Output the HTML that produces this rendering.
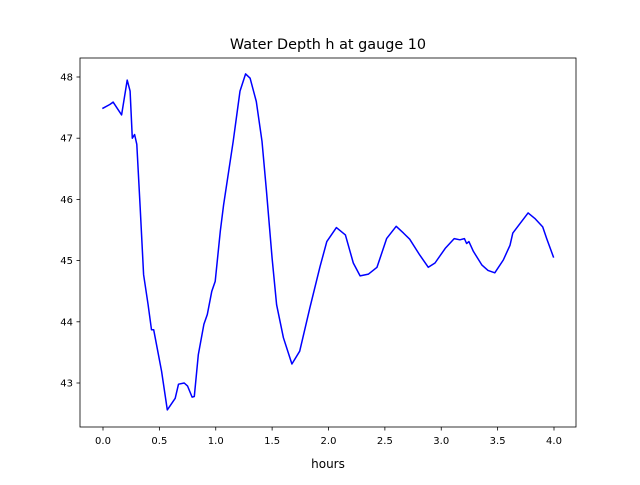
<!DOCTYPE html>
<html><head><meta charset="utf-8"><style>
body{margin:0;background:#fff;}
svg text{font-family:"DejaVu Sans","Liberation Sans",sans-serif;fill:#000;}
</style></head><body>
<svg id="chart" width="640" height="480" viewBox="0 0 640 480" xmlns="http://www.w3.org/2000/svg">
<rect width="640" height="480" fill="#fff"/>
<text x="328" y="49" font-size="14.4" text-anchor="middle">Water Depth h at gauge 10</text>
<text x="328" y="468" font-size="12" text-anchor="middle">hours</text>
<g id="plot"></g>
</svg>
<script>
const hours=[0.0,0.06,0.09,0.165,0.215,0.24,0.26,0.28,0.30,0.33,0.36,0.40,0.43,0.45,0.52,0.57,0.64,0.67,0.72,0.75,0.79,0.81,0.845,0.895,0.925,0.965,0.995,1.04,1.07,1.155,1.215,1.265,1.305,1.36,1.41,1.45,1.50,1.54,1.60,1.675,1.745,1.835,1.925,1.985,2.07,2.15,2.22,2.28,2.355,2.43,2.515,2.6,2.665,2.72,2.81,2.885,2.945,3.035,3.115,3.165,3.205,3.225,3.245,3.285,3.36,3.415,3.475,3.55,3.61,3.635,3.70,3.77,3.83,3.90,3.935,3.995];
const depth=[47.49,47.55,47.59,47.38,47.95,47.77,47.0,47.06,46.9,45.86,44.77,44.28,43.87,43.87,43.19,42.56,42.75,42.98,43.0,42.95,42.77,42.78,43.46,43.96,44.12,44.5,44.66,45.48,45.91,46.95,47.77,48.05,47.98,47.6,46.95,46.13,45.04,44.28,43.74,43.31,43.52,44.23,44.9,45.31,45.54,45.42,44.96,44.75,44.78,44.89,45.36,45.56,45.45,45.35,45.09,44.89,44.96,45.2,45.36,45.34,45.36,45.28,45.31,45.15,44.93,44.84,44.8,45.01,45.25,45.45,45.61,45.78,45.69,45.55,45.36,45.06];
const xTicks=[0.0,0.5,1.0,1.5,2.0,2.5,3.0,3.5,4.0];
const yTicks=[43,44,45,46,47,48];
const NS="http://www.w3.org/2000/svg";
const L=80,R=576,T=58,B=427;
function xs(v){return 103+(v-0)*(554-103)/4;}
function ys(v){return 77+(48-v)*(383-77)/5;}
const g=document.getElementById('plot');
function mk(t,a){const e=document.createElementNS(NS,t);for(const k in a)e.setAttribute(k,a[k]);g.appendChild(e);return e;}
let d=hours.map((h,i)=>(i?'L':'M')+xs(h).toFixed(1)+','+ys(depth[i]).toFixed(1)).join('');
const line=mk('path',{d:d,fill:'none',stroke:'#0000ff','stroke-width':1.5,'stroke-linejoin':'round','stroke-linecap':'square'});


const frame=mk('rect',{x:L,y:T,width:R-L,height:B-T,fill:'none',stroke:'#000','stroke-width':0.8});


xTicks.forEach(v=>{
  const x=xs(v);
  const t=mk('line',{x1:x,x2:x,y1:B,y2:B+3.5,stroke:'#000','stroke-width':0.8});
  
  
  const l=mk('text',{x:x,y:B+17,'font-size':10,'text-anchor':'middle'});
  l.textContent=v.toFixed(1);
  
  
});
yTicks.forEach(v=>{
  const y=ys(v);
  const t=mk('line',{x1:L-3.5,x2:L,y1:y,y2:y,stroke:'#000','stroke-width':0.8});
  
  
  const l=mk('text',{x:L-7,y:y+3.5,'font-size':10,'text-anchor':'end'});
  l.textContent=String(v);
  
  
});
</script>
</body></html>
